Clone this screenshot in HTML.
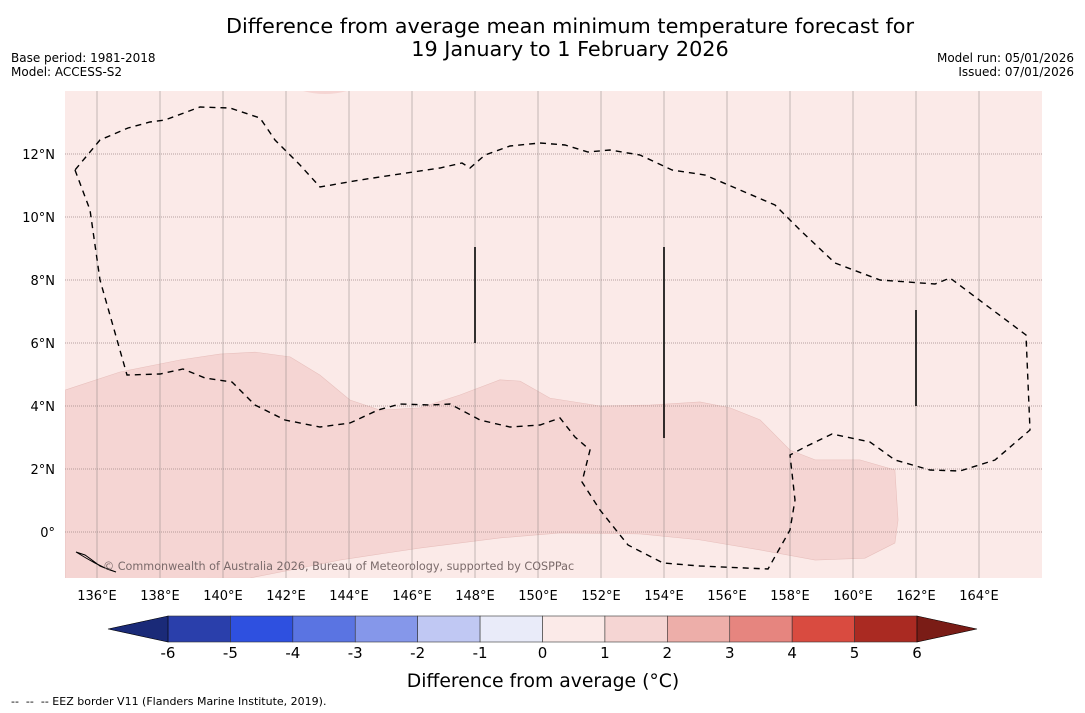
<!DOCTYPE html>
<html><head><meta charset="utf-8"><style>
body{margin:0;background:#fff;font-family:"DejaVu Sans","Liberation Sans",sans-serif;}
#wrap{position:relative;width:1085px;height:713px;overflow:hidden;background:#fff}
.t{position:absolute;white-space:pre;color:#000}
</style></head><body>
<div id="wrap">
<div class="t" style="left:0;width:1140px;text-align:center;top:15px;font-size:20.8px;line-height:23px">Difference from average mean minimum temperature forecast for
19 January to 1 February 2026</div>
<div class="t" style="left:11px;top:51px;font-size:12px;line-height:14px">Base period: 1981-2018
Model: ACCESS-S2</div>
<div class="t" style="right:11px;top:51px;font-size:12px;line-height:14px;text-align:right">Model run: 05/01/2026
Issued: 07/01/2026</div>
<svg id="svg" width="1085" height="713" style="position:absolute;left:0;top:0"></svg>
<div class="t" style="left:11px;top:695px;font-size:11px">--  --  -- EEZ border V11 (Flanders Marine Institute, 2019).</div>
</div>
<script>
const lonTicks=[136,138,140,142,144,146,148,150,152,154,156,158,160,162,164];
const latTicks=[0,2,4,6,8,10,12];
const anomLon=[135,136.73,138.63,139.9,141.02,142.13,143.08,144.03,144.98,146.25,147.52,148.79,149.43,150.38,151.97,153.56,155.14,156.1,157.05,158,158.8,160.22,161.33,161.43,161.33,160.38,158.8,157.05,155.14,153.24,150.7,148.79,146.25,143.71,142.13,140.86,135];
const anomLat=[4.51,5.08,5.46,5.65,5.71,5.56,4.98,4.19,3.87,3.94,4.35,4.83,4.79,4.25,4,4.03,4.13,3.94,3.56,2.6,2.29,2.29,1.97,0.38,-0.35,-0.83,-0.89,-0.57,-0.25,-0.06,-0.03,-0.19,-0.51,-0.89,-1.21,-1.46,-1.5];
const cbLevels=[-6,-5,-4,-3,-2,-1,0,1,2,3,4,5,6];
const cbColors=["#2a3fab","#2e50e0","#5a74e2","#8597ea","#c0c8f3","#e9ebf9","#fbeae8","#f5d5d3","#edaea9","#e6857f","#d94b40","#aa2a22"];
const cbLow="#1a2a78",cbHigh="#7a1c16";

const svg=document.getElementById('svg');const NS='http://www.w3.org/2000/svg';
function mk(t,a,p){const e=document.createElementNS(NS,t);for(const k in a)e.setAttribute(k,a[k]);(p||svg).appendChild(e);return e;}
const X0=65.5,Y0=91,X1=1042,Y1=578,LON0=135,LAT0=14,PX=31.5;
const lx=l=>X0+(l-LON0)*PX, ly=l=>Y0+(LAT0-l)*PX;
const cl=mk('clipPath',{id:'mc'});mk('rect',{x:65,y:91,width:977,height:487},cl);
const g=mk('g',{'clip-path':'url(#mc)'});
let r=mk('rect',{x:65,y:91,width:977,height:487,fill:'#fbeae8'},g);

let pts=anomLon.map((l,i)=>lx(l)+','+ly(anomLat[i])).join(' ');
let pg=mk('polygon',{points:pts,fill:'#f5d5d3',stroke:'#e8c0bd','stroke-width':0.6},g);

let blob=mk('path',{d:'M303,91 Q325,97 347,91 Z',fill:'#f5d5d3'},g);

lonTicks.forEach(l=>{const e=mk('line',{x1:lx(l),x2:lx(l),y1:91,y2:578,stroke:'#8a8080','stroke-width':0.5},g);

const t=mk('text',{x:lx(l),y:600,'text-anchor':'middle','font-size':13});t.textContent=l+'°E';
});
latTicks.forEach(l=>{const e=mk('line',{x1:65,x2:1042,y1:ly(l),y2:ly(l),stroke:'#a08888','stroke-width':0.8,'stroke-dasharray':'1,1'},g);

const t=mk('text',{x:55,y:ly(l)+5,'text-anchor':'end','font-size':13});t.textContent=l===0?'0°':l+'°N';
});
let eez=mk('path',{d:'M75,170 L90,210 L100,280 L127,375 L160,374 L183,369 L205,378 L232,382 L255,405 L285,420 L320,427 L350,423 L378,410 L400,404 L430,405 L450,404 L480,420 L510,427 L540,425 L560,418 L575,437 L590,450 L582,482 L600,510 L628,545 L663,563 L700,566 L768,569 L790,530 L795,500 L790,455 L805,447 L832,434 L870,442 L895,460 L930,470 L960,471 L995,460 L1030,430 L1026,335 L990,308 L950,278 L935,284 L880,280 L835,263 L800,230 L775,205 L740,190 L705,175 L672,170 L640,155 L610,150 L588,152 L565,145 L540,143 L510,146 L485,155 L470,168 L462,163 L440,168 L360,180 L320,187 L300,165 L275,140 L260,118 L230,108 L200,107 L165,120 L150,122 L128,128 L100,140 Z',fill:'none',stroke:'#000','stroke-width':1.4,'stroke-dasharray':'6,5'},g);

[[475,247,343],[664,247,438],[916,310,406]].forEach(v=>{const e=mk('line',{x1:v[0],x2:v[0],y1:v[1],y2:v[2],stroke:'#000','stroke-width':1.6},g);
});
let isl=mk('path',{d:'M76,552 L85,555 L92,560 L100,566 L110,570 L116,572 L105,568 L95,563 L86,558 Z',fill:'none',stroke:'#000','stroke-width':1},g);

let cp=mk('text',{x:103,y:570,'font-size':11.2,fill:'#7a6a6a'},g);cp.textContent='© Commonwealth of Australia 2026, Bureau of Meteorology, supported by COSPPac';

const CX0=168,CX1=917,CY0=616,CY1=642;const cx=v=>CX0+(v-cbLevels[0])/(cbLevels[cbLevels.length-1]-cbLevels[0])*(CX1-CX0);
cbColors.forEach((c,i)=>{const e=mk('rect',{x:cx(cbLevels[i]),y:CY0,width:cx(cbLevels[i+1])-cx(cbLevels[i]),height:CY1-CY0,fill:c,stroke:'#333','stroke-width':0.6});
});
let a1=mk('polygon',{points:`${CX0},${CY0} 108,629 ${CX0},${CY1}`,fill:cbLow,stroke:'#000','stroke-width':0.6});

let a2=mk('polygon',{points:`${CX1},${CY0} 977,629 ${CX1},${CY1}`,fill:cbHigh,stroke:'#000','stroke-width':0.6});

cbLevels.forEach(v=>{const t=mk('text',{x:cx(v),y:658,'text-anchor':'middle','font-size':15});t.textContent=v;
});
let ct=mk('text',{x:543,y:687,'text-anchor':'middle','font-size':18.8});ct.textContent='Difference from average (°C)';

</script>
</body></html>
